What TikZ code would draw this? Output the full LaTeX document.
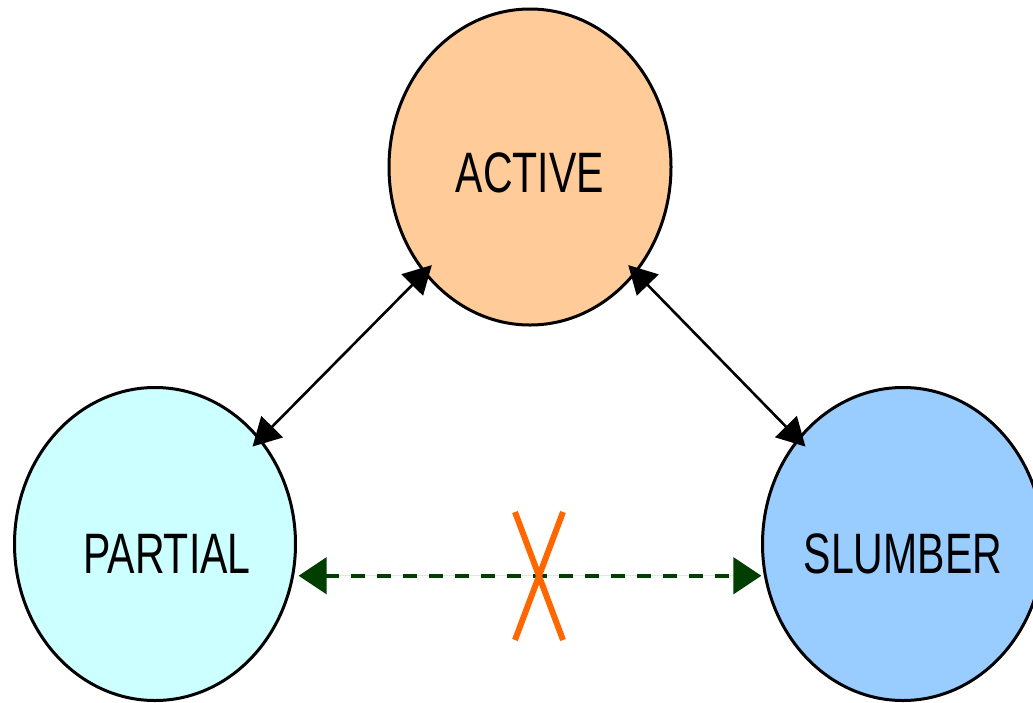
\documentclass[tikz,border=0pt]{standalone}
\usepackage{fontspec}
\setmainfont{Liberation Sans}
\usetikzlibrary{arrows.meta,shapes.geometric,shapes.misc}
\definecolor{activefill}{HTML}{FFCC99}
\definecolor{partialfill}{HTML}{CCFFFF}
\definecolor{slumberfill}{HTML}{99CCFF}
\definecolor{nogreen}{HTML}{003F00}
\definecolor{xorange}{HTML}{FF6600}
\newcommand{\statelabel}[1]{\scalebox{0.72}[1]{#1}}

\begin{document}
\begin{tikzpicture}[x=1pt,y=-1pt,
  state/.style={ellipse, draw=black, line width=3pt, inner sep=0pt, outer sep=0pt,
    minimum width=281pt, minimum height=313pt, text depth=0pt,
    font=\fontsize{57}{60}\selectfont},
  link/.style={{Triangle[length=28pt,width=30pt]}-{Triangle[length=28pt,width=30pt]},
    line width=2.6pt, shorten <=-10pt, shorten >=-10pt},
  nolink/.style={{Triangle[length=28pt,width=36pt]}-{Triangle[length=28pt,width=36pt]},
    draw=nogreen, fill=nogreen, line width=4.5pt, dash pattern=on 14pt off 12pt,
    shorten <=6pt, shorten >=4pt},
  forbid/.style={cross out, draw=xorange, line width=6pt, inner sep=0pt,
    minimum width=42pt, minimum height=122pt}]
\useasboundingbox (0,0) rectangle (1033,702);

% power states
\node[state, fill=activefill, minimum width=282pt, minimum height=316pt,
  text height=51pt] (act) at (530,167) {\statelabel{ACTIVE}};
\node[state, fill=partialfill, text height=59pt] (par) at (155,544)
  {\hspace*{24pt}\statelabel{PARTIAL}};
\node[state, fill=slumberfill, text height=59pt] (slu) at (903,544)
  {\statelabel{SLUMBER}};

% allowed transitions
\draw[link] (act.225) -- (par.45);
\draw[link] (act.315) -- (slu.135);

% direct transition not allowed
\draw[nolink] (par.-13) -- (slu.193);
\node[forbid] (nox) at (539,576) {};
\end{tikzpicture}
\end{document}
